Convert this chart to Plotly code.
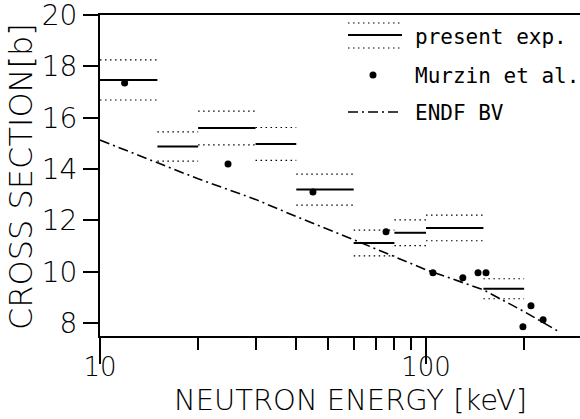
import plotly.graph_objects as go

# Present experiment: energy bins [keV], cross sections [b] and uncertainties
bin_lo = [10, 15, 20, 30, 40, 60, 80, 100, 150]
bin_hi = [15, 20, 30, 40, 60, 80, 100, 150, 200]
sigma = [17.47, 14.88, 15.6, 14.98, 13.2, 11.12, 11.52, 11.71, 9.34]
sigma_err = [0.78, 0.57, 0.66, 0.64, 0.6, 0.5, 0.5, 0.5, 0.39]

# Murzin et al. data points
murzin_e = [11.9, 24.7, 45.0, 75.4, 105, 129.7, 144.4, 152.8, 198.3, 209.9, 228.7]
murzin_s = [17.35, 14.2, 13.11, 11.56, 9.96, 9.77, 9.96, 9.96, 7.86, 8.68, 8.13]

# ENDF/B-V evaluation
endf_e = [10, 20, 30, 40, 60, 100, 150, 200, 257]
endf_s = [15.13, 13.62, 12.82, 12.15, 11.25, 10.08, 9.3, 8.45, 7.65]

x_ticks = [10, 100]
x_minor = [20, 30, 40, 50, 60, 70, 80, 90, 200]
y_ticks = [8, 10, 12, 14, 16, 18, 20]

FONT = "DejaVu Sans"
MONO = "DejaVu Sans Mono"


def segments(lo, hi, vals):
    xs, ys = [], []
    for a, b, v in zip(lo, hi, vals):
        xs += [a, b, None]
        ys += [v, v, None]
    return xs, ys


fig = go.Figure()

# dotted uncertainty bands
for sign in (1, -1):
    bx, by = segments(bin_lo, bin_hi, [s + sign * e for s, e in zip(sigma, sigma_err)])
    fig.add_trace(go.Scatter(x=bx, y=by, mode="lines",
                             line=dict(color="black", width=1.2, dash="1.5px,3.5px"),
                             hoverinfo="skip", showlegend=False))

# central values
bx, by = segments(bin_lo, bin_hi, sigma)
fig.add_trace(go.Scatter(x=bx, y=by, mode="lines",
                         line=dict(color="black", width=2),
                         showlegend=False))

# ENDF BV curve
fig.add_trace(go.Scatter(x=endf_e, y=endf_s, mode="lines",
                         line=dict(color="black", width=1.6, dash="10px,4px,2px,4px"),
                         showlegend=False))

# Murzin et al.
fig.add_trace(go.Scatter(x=murzin_e, y=murzin_s, mode="markers",
                         marker=dict(color="black", size=7),
                         showlegend=False))

# hand-drawn legend (paper coordinates of a 480 x 321 plot area)
def px(xp):
    return (xp - 100) / 480


def py(yp):
    return (336 - yp) / 321


shapes = []
for yy, style in ((23, "dot"), (35, "solid"), (48, "dot")):
    shapes.append(dict(type="line", xref="paper", yref="paper",
                       x0=px(348), x1=px(400) if style == "dot" else px(402),
                       y0=py(yy), y1=py(yy),
                       line=dict(color="black",
                                 width=1.2 if style == "dot" else 2,
                                 dash="1.5px,3.5px" if style == "dot" else "solid")))
shapes.append(dict(type="line", xref="paper", yref="paper",
                   x0=px(348), x1=px(402), y0=py(112), y1=py(112),
                   line=dict(color="black", width=1.6, dash="10px,4px,2px,4px")))
shapes.append(dict(type="circle", xref="paper", yref="paper",
                   x0=px(369.5), x1=px(376.5), y0=py(71.5), y1=py(78.5),
                   fillcolor="black", line=dict(color="black", width=0)))

legend_text = [("present exp.", 37), ("Murzin et al.", 76), ("ENDF BV", 113)]
annotations = []
for txt, yy in legend_text:
    annotations.append(dict(text=txt, xref="paper", yref="paper",
                            x=px(413), y=py(yy), xanchor="left", yanchor="middle",
                            showarrow=False,
                            font=dict(family=MONO, size=21, color="black")))

annotations.append(dict(text="NEUTRON ENERGY [keV]", xref="paper", yref="paper",
                        x=px(350), y=py(419), xanchor="center", yanchor="bottom",
                        showarrow=False,
                        font=dict(family=FONT, size=29, color="black", weight=200)))
annotations.append(dict(text="CROSS SECTION[b]", xref="paper", yref="paper",
                        x=px(21), y=py(177), xanchor="center", yanchor="middle",
                        textangle=-90, showarrow=False,
                        font=dict(family=FONT, size=32, color="black", weight=200)))

fig.update_layout(
    width=580, height=419,
    margin=dict(l=100, r=0, t=15, b=83),
    paper_bgcolor="white", plot_bgcolor="white",
    shapes=shapes, annotations=annotations,
    showlegend=False,
)

fig.update_xaxes(
    type="log", range=[1, 2.4724],
    showline=True, linecolor="black", linewidth=2, mirror=True,
    showgrid=False, zeroline=False,
    tickmode="array", tickvals=x_ticks, ticktext=[str(v) for v in x_ticks],
    ticks="outside", ticklen=26, tickwidth=2, tickcolor="black",
    ticklabelstandoff=-19, ticklabeloverflow="allow",
    tickfont=dict(family=FONT, size=26, color="black", weight=200),
    minor=dict(tickmode="array", tickvals=x_minor, ticks="outside",
               ticklen=12, tickwidth=1.5, tickcolor="black", showgrid=False),
)
fig.update_yaxes(
    range=[7.5, 20],
    showline=True, linecolor="black", linewidth=2, mirror=False,
    showgrid=False, zeroline=False,
    tickmode="array", tickvals=y_ticks,
    ticks="outside", ticklen=15, tickwidth=2, tickcolor="black",
    ticklabeloverflow="allow",
    tickfont=dict(family=FONT, size=28, color="black", weight=200),
)

fig.write_html("out.html")
